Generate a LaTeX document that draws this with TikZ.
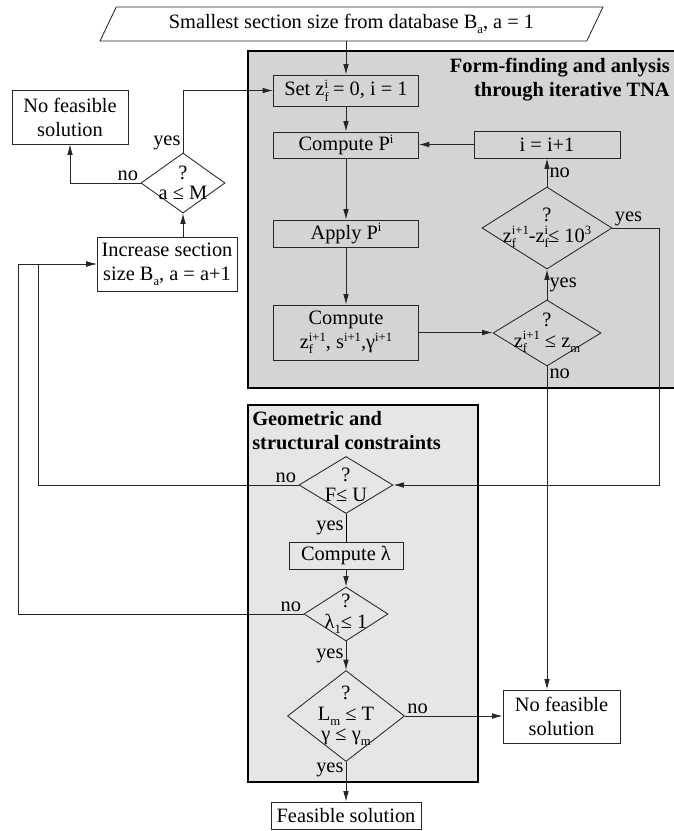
\documentclass[tikz,border=0pt]{standalone}
\usepackage{fontspec}
\setmainfont{Liberation Serif}
\usetikzlibrary{shapes.geometric,arrows.meta}
\newcommand{\idxfont}{\fontsize{9}{9}\selectfont}
\newcommand{\fsup}[1]{\rlap{\raisebox{-0.55ex}{\idxfont f}}\raisebox{0.8ex}{\idxfont #1}}
\newcommand{\lowsub}[1]{\raisebox{-0.55ex}{\idxfont #1}}
\newcommand{\highsup}[1]{\raisebox{0.8ex}{\idxfont #1}}
\definecolor{tnagray}{RGB}{211,212,214}
\definecolor{geogray}{RGB}{229,230,232}

\begin{document}
\begin{tikzpicture}[x=0.025cm,y=-0.025cm,font=\fontsize{14.5}{17}\selectfont]
        \tikzstyle{block} = [draw=black!85,line width=0.6pt,align=center,inner sep=2pt]
        \tikzstyle{test} = [diamond,draw=black!85,line width=0.6pt,inner sep=0pt]
        \tikzstyle{ask} = [align=center,inner sep=0pt,font=\fontsize{14.5}{14.5}\selectfont]
        \tikzstyle{frame} = [draw=black,line width=1.4pt]
        \tikzstyle{arr} = [-{Latex[length=2.6mm,width=1.4mm]},line width=0.6pt,draw=black!85]
        \tikzstyle{ans} = [inner sep=1.5pt]
        \tikzstyle{head} = [inner sep=0pt,font=\fontsize{14.5}{17}\selectfont\bfseries]
    
        \useasboundingbox (0,0) rectangle (673,831);
        \fill[white] (0,0) rectangle (673,831);
    
    
        \draw[frame,fill=tnagray] (248,51) rectangle (690,388);
        \draw[frame,fill=geogray] (248,405) rectangle (478,782);
    
        \node[head,anchor=north east,align=right] (tnatitle) at (670,58) {Form-finding and anlysis\\through iterative TNA};
        \node[head,anchor=north west,align=left] (geotitle) at (252,411) {Geometric and\\structural constraints};
    
    
        \node[trapezium,trapezium left angle=66,trapezium right angle=114,trapezium stretches=true,
              draw=black!85,line width=0.6pt,minimum width=12.575cm,minimum height=0.85cm] (start) at (351.5,24)
              {Smallest section size from database B\lowsub{a}, a = 1};
    
        \node[block,minimum width=3.625cm,minimum height=0.775cm] (set) at (346,90.5) {Set z\fsup{i} = 0, i = 1};
        \node[block,minimum width=3.625cm,minimum height=0.65cm] (cpi) at (346,145) {Compute P\highsup{i}};
        \node[block,minimum width=3.625cm,minimum height=0.675cm] (app) at (346,233.5) {Apply P\highsup{i}};
        \node[block,minimum width=3.625cm,minimum height=1.375cm] (cz) at (346,332.5) {Compute\\z\fsup{i+1}, s\highsup{i+1},γ\highsup{i+1}};
        \node[block,minimum width=3.65cm,minimum height=0.675cm] (ii) at (547,144.5) {i = i+1};
    
        \node[test,minimum width=3.25cm,minimum height=2.05cm,label={[ask]center:{?\\z\fsup{i+1}-z\fsup{i}≤ 10\highsup{3}}}] (dz) at (547,228) {};
        \node[test,minimum width=2.7cm,minimum height=1.65cm,label={[ask]center:{?\\z\fsup{i+1} ≤ z\lowsub{m}}}] (dm) at (547,333) {};
    
    
        \node[block,minimum width=2.9cm,minimum height=1.35cm] (nf1) at (70,117) {No feasible\\solution};
        \node[test,minimum width=2.1cm,minimum height=1.5cm,label={[ask]center:{?\\a ≤ M}}] (aM) at (183,183) {};
        \node[block,minimum width=3.5cm,minimum height=1.35cm] (inc) at (167,264) {Increase section\\size B\lowsub{a}, a = a+1};
    
    
        \node[test,minimum width=2.35cm,minimum height=1.425cm,label={[ask]center:{?\\F≤ U}}] (fu) at (346,485) {};
        \node[block,minimum width=2.85cm,minimum height=0.675cm] (cl) at (346,555.5) {Compute λ};
        \node[test,minimum width=2.1cm,minimum height=1.35cm,label={[ask]center:{?\\λ\lowsub{1}≤ 1}}] (dl) at (346,614) {};
        \node[test,minimum width=2.925cm,minimum height=2.275cm,label={[ask]center:{?\\L\lowsub{m} ≤ T\\γ ≤ γ\lowsub{m}}}] (dL) at (346,716) {};
        \node[block,minimum width=3.75cm,minimum height=0.675cm] (feas) at (346,815.5) {Feasible solution};
        \node[block,minimum width=2.925cm,minimum height=1.325cm] (nf2) at (561.5,716.5) {No feasible\\solution};
    
        \coordinate (rgt) at (659,485);
        \coordinate (lin) at (38,264);
        \coordinate (lout) at (18,264);
    
    
        \draw[arr] (set.north |- start.south) -- (set.north);
        \draw[arr] (set) -- (cpi);
        \draw[arr] (cpi) -- (app);
        \draw[arr] (app) -- (cz);
        \draw[arr] (cz.east) -- (cz.east -| dm.west);
        \draw[arr] (dm) -- node[ans,right] {yes} (dz);
        \draw[arr] (dz) -- node[ans,right] {no} (ii);
        \draw[arr] (ii.west) -- (ii.west -| cpi.east);
    
    
        \draw[arr] (dz.east) -- node[ans,above right,pos=0] {yes} (rgt |- dz.east) |- (fu.east);
        \draw[arr] (dm.south) -- node[ans,below right,pos=0] {no} (dm.south |- nf2.north);
    
    
        \draw[arr] (fu.west) -- node[ans,above left,pos=0] {no} (lin |- fu.west) -- (lin) -- (inc.west);
        \draw (fu) -- node[ans,left] {yes} (cl);
        \draw[arr] (cl) -- (dl);
        \draw[arr] (dl.west) -- node[ans,above left,pos=0] {no} (lout |- dl.west) -- (lout) -- (inc.west);
        \draw[arr] (dl) -- node[ans,left] {yes} (dL);
        \draw[arr] (dL.east) -- node[ans,above right,pos=0] {no} (dL.east -| nf2.west);
        \draw[arr] (dL.south) -- node[ans,left,pos=0.2] {yes} (dL.south |- feas.north);
    
    
        \draw[arr] (aM.south |- inc.north) -- (aM.south);
        \draw[arr] (aM.west) -- node[ans,above left,pos=0] {no} (nf1.south |- aM.west) -- (nf1.south);
        \draw[arr] (aM.north) -- node[ans,above left,pos=0] {yes} (aM.north |- set.west) -- (set.west);
    
    \end{tikzpicture}
\end{document}
